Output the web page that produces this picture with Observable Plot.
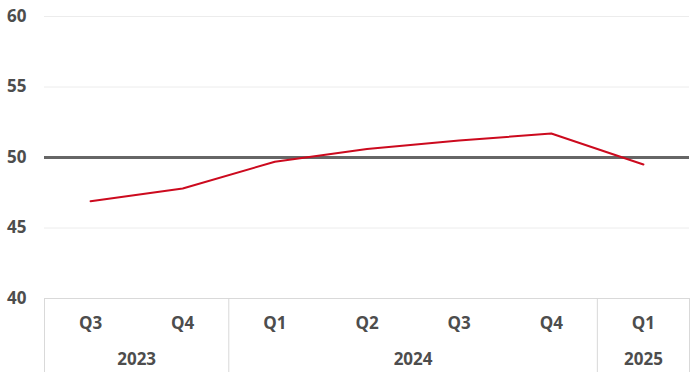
<!DOCTYPE html>
<html>
<head>
<meta charset="utf-8">
<script src="https://cdn.jsdelivr.net/npm/d3@7"></script>
<script src="https://cdn.jsdelivr.net/npm/@observablehq/plot@0.6"></script>
<style>
  html, body { margin: 0; padding: 0; background: #fff; }
  #chart svg { display: block; }
</style>
</head>
<body>
<div id="chart"></div>
<script>
const quarters = ["Q3", "Q4", "Q1", "Q2", "Q3", "Q4", "Q1"];
const values = [46.9, 47.8, 49.7, 50.6, 51.2, 51.7, 49.5];
const years = ["2023", "2024", "2025"];
const yearStart = [0, 2, 6];
const yearEnd = [1, 5, 6];
const yTicks = [40, 45, 50, 55, 60];
const threshold = 50;

const data = values.map((v, i) => ({i, q: quarters[i], v}));
const yearCenters = years.map((y, k) => (yearStart[k] + yearEnd[k]) / 2);
const dividers = [yearStart[0] - 0.5, ...yearEnd.map(e => e + 0.5)];
const font = "'Open Sans', sans-serif";
const textStyle = {fontSize: 17, fontWeight: 700, fill: "#4d4d4d"};

const chart = Plot.plot({
  width: 700,
  height: 377,
  marginLeft: 44,
  marginRight: 11,
  marginTop: 16,
  marginBottom: 79,
  style: {fontFamily: font, fontSize: "17px", fontWeight: 700, color: "#4d4d4d", background: "#fff"},
  x: {type: "linear", domain: [-0.5, quarters.length - 0.5]},
  y: {domain: [40, 60]},
  marks: [
    Plot.ruleY(yTicks.filter(t => t !== 40 && t !== threshold), {stroke: "#ececec", strokeWidth: 1}),
    Plot.ruleY([40], {stroke: "#d9d9d9", strokeWidth: 1}),
    Plot.axisY({ticks: yTicks, tickSize: 0, tickPadding: 18, label: null, ...textStyle}),
    Plot.axisX({ticks: dividers, tickSize: 74, tickFormat: () => "", stroke: "#d9d9d9", strokeOpacity: 1, label: null}),
    Plot.axisX({ticks: d3.range(quarters.length), tickSize: 0, tickPadding: 18, tickFormat: i => quarters[i], label: null, ...textStyle}),
    Plot.axisX({ticks: yearCenters, tickSize: 0, tickPadding: 54, tickFormat: c => years[yearCenters.indexOf(c)], label: null, ...textStyle}),
    Plot.ruleY([threshold], {stroke: "#666666", strokeWidth: 3}),
    Plot.line(data, {x: "i", y: "v", stroke: "#cc0a1e", strokeWidth: 2})
  ]
});
document.getElementById("chart").appendChild(chart);
</script>
</body>
</html>
